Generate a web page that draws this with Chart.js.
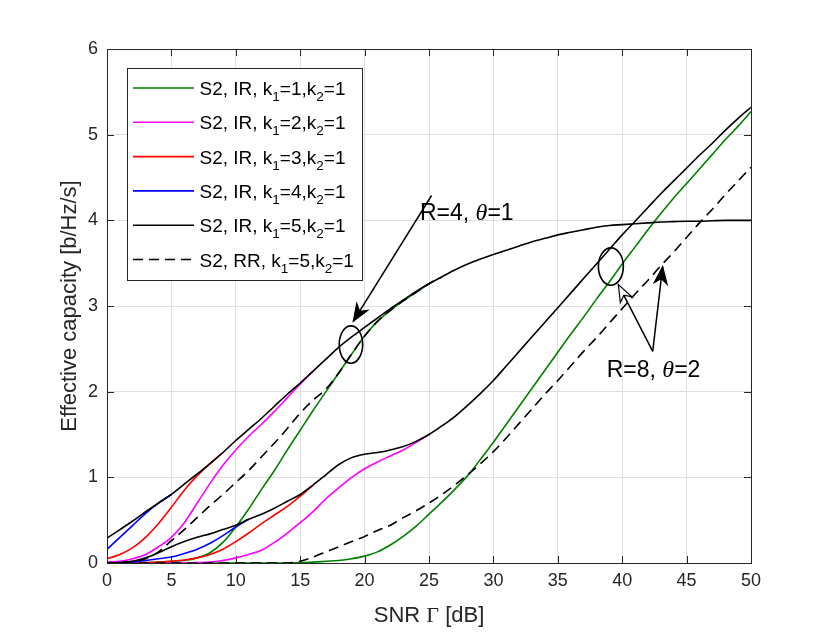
<!DOCTYPE html>
<html>
<head>
<meta charset="utf-8">
<script src="https://cdn.jsdelivr.net/npm/chart.js@4.4.1/dist/chart.umd.min.js"></script>
<style>
  html, body { margin: 0; padding: 0; background: #fff; }
  #wrap { width: 830px; height: 633px; position: relative; }
</style>
</head>
<body>
<div id="wrap"><canvas id="capacityChart" width="830" height="633"></canvas></div>
<script>
// === Data (SNR in dB, capacity in b/Hz/s) ===
const snr = [0,1,2,3,4,5,6,7,8,9,10,11,12,13,14,15,16,17,18,19,20,21,22,23,24,25,
  26,27,28,29,30,31,32,33,34,35,36,37,38,39,40,41,42,43,44,45,46,47,48,49,50];

// R=4, theta=1
const irK5R4 = [0.29,0.39,0.49,0.6,0.7,0.8,0.92,1.04,1.16,1.29,1.43,1.56,1.69,1.83,1.97,2.1,
  2.24,2.38,2.52,2.64,2.75,2.86,2.97,3.07,3.17,3.26,3.34,3.42,3.49,3.55,3.6,3.65,3.7,3.75,
  3.79,3.83,3.86,3.89,3.92,3.94,3.95,3.96,3.97,3.98,3.985,3.99,3.99,3.995,4.0,4.0,4.0];
const irK4R4 = [0.16,0.3,0.44,0.58,0.7,0.8];
const irK3R4 = [0.05,0.1,0.18,0.3,0.46,0.65,0.85,1.02,1.16,1.29];
const irK2R4 = [0.01,0.02,0.05,0.1,0.19,0.3,0.47,0.7,0.93,1.14,1.32,1.48,1.62,1.77,1.93,2.09,2.24];
const irK1R4 = [0,0,0,0.005,0.01,0.02,0.03,0.06,0.12,0.24,0.42,0.63,0.86,1.08,1.32,1.55,1.78,
  2.0,2.22,2.44,2.65,2.82,2.95,3.06,3.16,3.26,3.34];
const rrK5R4 = [0,0.005,0.02,0.05,0.13,0.26,0.39,0.53,0.67,0.8,0.94,1.08,1.24,1.4,1.57,1.75,1.9,
  2.03,2.22,2.44,2.65,2.82,2.95,3.06,3.16,3.26,3.34];

// R=8, theta=2
const irK5R8 = [0,0.005,0.02,0.06,0.12,0.19,0.25,0.3,0.34,0.39,0.44,0.51,0.57,0.64,0.72,0.8,
  0.91,1.03,1.15,1.23,1.27,1.29,1.32,1.36,1.42,1.5,1.6,1.71,1.84,1.98,2.13,2.3,2.47,2.64,2.81,
  2.98,3.15,3.32,3.49,3.66,3.83,3.99,4.15,4.31,4.46,4.61,4.76,4.9,5.05,5.19,5.32];
const irK4R8 = [0,0.005,0.01,0.03,0.05,0.07,0.11,0.16,0.23,0.32,0.42,0.51];
const irK3R8 = [0,0,0,0.005,0.01,0.02,0.035,0.06,0.1,0.16,0.25,0.35,0.46,0.56,0.66,0.78,0.91];
const irK2R8 = [0,0,0,0,0,0,0,0.005,0.01,0.03,0.06,0.1,0.15,0.24,0.35,0.47,0.6,0.75,0.88,1.0,
  1.1,1.18,1.25,1.32,1.41,1.5];
const irK1R8 = [0,0,0,0,0,0,0,0,0,0,0,0,0,0,0,0.005,0.01,0.02,0.03,0.05,0.08,0.13,0.21,0.31,
  0.43,0.57,0.71,0.86,1.02,1.21,1.41,1.62,1.83,2.04,2.25,2.46,2.67,2.87,3.08,3.28,3.49,3.69,
  3.89,4.08,4.26,4.43,4.6,4.77,4.94,5.1,5.27];
const rrK5R8 = [0,0,0,0,0,0,0,0,0,0,0,0,0,0,0,0.02,0.07,0.13,0.19,0.25,0.31,0.38,0.44,0.53,
  0.61,0.7,0.8,0.91,1.03,1.16,1.3,1.46,1.63,1.8,1.97,2.13,2.3,2.47,2.63,2.8,2.97,3.14,3.3,
  3.47,3.63,3.8,3.97,4.13,4.3,4.46,4.62];

// legend entries (same for both R groups)
const schemes = ["IR", "IR", "IR", "IR", "IR", "RR"];
const k1List = [1, 2, 3, 4, 5, 5];
const k2 = 1;

// callouts, in data units
const ellipses = [
  { x: 18.94, y: 2.55, rx: 0.91, ry: 0.218 },
  { x: 39.12, y: 3.46, rx: 0.97, ry: 0.218 }
];
const arrows = [
  { from: [25.2, 4.29], to: [19.12, 2.82], open: false },
  { from: [42.37, 2.47], to: [39.7, 3.25], open: true },
  { from: [42.37, 2.47], to: [43.14, 3.46], open: false }
];
const notes = [
  { x: 24.3, y: 4.10, r: "4", theta: "1" },
  { x: 38.8, y: 2.27, r: "8", theta: "2" }
];

// === Styles ===
const GREEN = "#008000", MAGENTA = "#ff00ff", RED = "#ff0000", BLUE = "#0000ff", BLACK = "#000000";
const AXIS = "#262626";
const SANS = "'Liberation Sans', Arial, Helvetica, sans-serif";
const SERIF = "'Liberation Serif', 'Times New Roman', serif";
const DASH = [10, 6];

const legendStyles = [
  { color: GREEN, dash: [] },
  { color: MAGENTA, dash: [] },
  { color: RED, dash: [] },
  { color: BLUE, dash: [] },
  { color: BLACK, dash: [] },
  { color: BLACK, dash: DASH }
];

function toPoints(values) {
  return values.map((v, i) => ({ x: snr[i], y: v }));
}

function line(label, values, color, dash, order) {
  return {
    label,
    data: toPoints(values),
    borderColor: color,
    backgroundColor: color,
    borderWidth: 1.6,
    borderDash: dash,
    pointRadius: 0,
    cubicInterpolationMode: "monotone",
    fill: false,
    order
  };
}

const datasets = [
  line("S2, IR, k1=1, R=4", irK1R4, GREEN, [], 5),
  line("S2, IR, k1=2, R=4", irK2R4, MAGENTA, [], 4),
  line("S2, IR, k1=3, R=4", irK3R4, RED, [], 3),
  line("S2, IR, k1=4, R=4", irK4R4, BLUE, [], 2),
  line("S2, IR, k1=5, R=4", irK5R4, BLACK, [], 1),
  line("S2, RR, k1=5, R=4", rrK5R4, BLACK, DASH, 0),
  line("S2, IR, k1=1, R=8", irK1R8, GREEN, [], 5),
  line("S2, IR, k1=2, R=8", irK2R8, MAGENTA, [], 4),
  line("S2, IR, k1=3, R=8", irK3R8, RED, [], 3),
  line("S2, IR, k1=4, R=8", irK4R8, BLUE, [], 2),
  line("S2, IR, k1=5, R=8", irK5R8, BLACK, [], 1),
  line("S2, RR, k1=5, R=8", rrK5R8, BLACK, DASH, 0)
];

// draw a run of text pieces with their own fonts / offsets
function drawParts(ctx, parts, x, y, align) {
  let total = 0;
  parts.forEach(p => { ctx.font = p.font; total += ctx.measureText(p.t).width; });
  let cx = align === "center" ? x - total / 2 : x;
  ctx.textAlign = "left";
  ctx.textBaseline = "alphabetic";
  parts.forEach(p => {
    ctx.font = p.font;
    ctx.fillText(p.t, cx, y + (p.dy || 0));
    cx += ctx.measureText(p.t).width;
  });
}

function arrowHead(ctx, x0, y0, x1, y1, open) {
  const a = Math.atan2(y1 - y0, x1 - x0);
  const len = 17, half = 6.5, notch = 5;
  const bx = x1 - len * Math.cos(a), by = y1 - len * Math.sin(a);
  const nx = x1 - (len - notch) * Math.cos(a), ny = y1 - (len - notch) * Math.sin(a);
  const px = -Math.sin(a) * half, py = Math.cos(a) * half;
  ctx.beginPath();
  ctx.moveTo(x1, y1);
  ctx.lineTo(bx + px, by + py);
  ctx.lineTo(nx, ny);
  ctx.lineTo(bx - px, by - py);
  ctx.closePath();
  ctx.fillStyle = open ? "#fff" : BLACK;
  ctx.fill();
  ctx.stroke();
}

// === MATLAB-like frame: box + inward ticks ===
const framePlugin = {
  id: "matlabFrame",
  beforeDatasetsDraw(chart) {
    const { ctx, chartArea: a, scales } = chart;
    ctx.save();
    ctx.strokeStyle = AXIS;
    ctx.lineWidth = 1;
    const tick = 7;
    ctx.beginPath();
    scales.x.ticks.forEach(t => {
      const px = Math.round(scales.x.getPixelForValue(t.value)) + 0.5;
      ctx.moveTo(px, a.bottom); ctx.lineTo(px, a.bottom - tick);
      ctx.moveTo(px, a.top); ctx.lineTo(px, a.top + tick);
    });
    scales.y.ticks.forEach(t => {
      const py = Math.round(scales.y.getPixelForValue(t.value)) + 0.5;
      ctx.moveTo(a.left, py); ctx.lineTo(a.left + tick, py);
      ctx.moveTo(a.right, py); ctx.lineTo(a.right - tick, py);
    });
    ctx.stroke();
    ctx.strokeRect(Math.round(a.left) + 0.5, Math.round(a.top) + 0.5,
      Math.round(a.right - a.left), Math.round(a.bottom - a.top));
    ctx.restore();
  },
  afterDraw(chart) {
    const { ctx, chartArea: a, scales } = chart;
    const sx = scales.x, sy = scales.y;
    ctx.save();

    // axis titles
    ctx.fillStyle = AXIS;
    drawParts(ctx, [
      { t: "SNR ", font: `22px ${SANS}` },
      { t: "\u0393", font: `22px ${SERIF}` },
      { t: " [dB]", font: `22px ${SANS}` }
    ], (a.left + a.right) / 2, 622, "center");
    ctx.save();
    ctx.translate(76, (a.top + a.bottom) / 2);
    ctx.rotate(-Math.PI / 2);
    drawParts(ctx, [{ t: "Effective capacity [b/Hz/s]", font: `22px ${SANS}` }], 0, 0, "center");
    ctx.restore();

    // ellipses
    ctx.strokeStyle = BLACK;
    ctx.lineWidth = 1.6;
    ellipses.forEach(e => {
      const cx = sx.getPixelForValue(e.x), cy = sy.getPixelForValue(e.y);
      const rx = sx.getPixelForValue(e.x + e.rx) - cx;
      const ry = cy - sy.getPixelForValue(e.y + e.ry);
      ctx.beginPath();
      ctx.ellipse(cx, cy, rx, ry, 0, 0, Math.PI * 2);
      ctx.stroke();
    });

    // arrows
    arrows.forEach(ar => {
      const x0 = sx.getPixelForValue(ar.from[0]), y0 = sy.getPixelForValue(ar.from[1]);
      const x1 = sx.getPixelForValue(ar.to[0]), y1 = sy.getPixelForValue(ar.to[1]);
      ctx.lineWidth = 1.5;
      ctx.beginPath();
      ctx.moveTo(x0, y0);
      ctx.lineTo(x1, y1);
      ctx.stroke();
      ctx.lineWidth = 1.2;
      arrowHead(ctx, x0, y0, x1, y1, ar.open);
    });

    // notes
    ctx.fillStyle = BLACK;
    notes.forEach(n => {
      drawParts(ctx, [
        { t: `R=${n.r}, `, font: `23px ${SANS}` },
        { t: "\u03b8", font: `italic 24px ${SERIF}` },
        { t: `=${n.theta}`, font: `23px ${SANS}` }
      ], sx.getPixelForValue(n.x), sy.getPixelForValue(n.y) + 8, "left");
    });

    // legend
    const lx = a.left + 20, ly = a.top + 19, lw = 235, lh = 212;
    ctx.fillStyle = "#fff";
    ctx.fillRect(lx, ly, lw, lh);
    ctx.strokeStyle = AXIS;
    ctx.lineWidth = 1;
    ctx.strokeRect(Math.round(lx) + 0.5, Math.round(ly) + 0.5, lw, lh);
    const big = `19px ${SANS}`, small = `13.5px ${SANS}`;
    k1List.forEach((k1, i) => {
      const rowY = ly + 20 + i * 34.3;
      const st = legendStyles[i];
      ctx.save();
      ctx.strokeStyle = st.color;
      ctx.lineWidth = 1.6;
      ctx.setLineDash(st.dash);
      ctx.beginPath();
      ctx.moveTo(lx + 6, rowY);
      ctx.lineTo(lx + 67, rowY);
      ctx.stroke();
      ctx.restore();
      ctx.fillStyle = BLACK;
      drawParts(ctx, [
        { t: `S2, ${schemes[i]}, k`, font: big },
        { t: "1", font: small, dy: 6 },
        { t: `=${k1},k`, font: big },
        { t: "2", font: small, dy: 6 },
        { t: `=${k2}`, font: big }
      ], lx + 72.5, rowY + 7, "left");
    });

    ctx.restore();
  }
};

const tickFont = { family: SANS, size: 18 };

new Chart(document.getElementById("capacityChart"), {
  type: "line",
  data: { datasets },
  options: {
    responsive: false,
    animation: false,
    devicePixelRatio: 1,
    layout: { padding: { top: 49, right: 79, left: 0, bottom: 0 } },
    plugins: { legend: { display: false }, tooltip: { enabled: false } },
    scales: {
      x: {
        type: "linear",
        min: 0, max: 50,
        ticks: { stepSize: 5, color: AXIS, font: tickFont, padding: 7, maxRotation: 0 },
        grid: { color: "#dfdfdf", drawTicks: false },
        border: { display: false },
        afterFit(scale) { scale.height = 70; }
      },
      y: {
        type: "linear",
        min: 0, max: 6,
        ticks: { stepSize: 1, color: AXIS, font: tickFont, padding: 9 },
        grid: { color: "#dfdfdf", drawTicks: false },
        border: { display: false },
        afterFit(scale) { scale.width = 107; }
      }
    }
  },
  plugins: [framePlugin]
});
</script>
</body>
</html>
